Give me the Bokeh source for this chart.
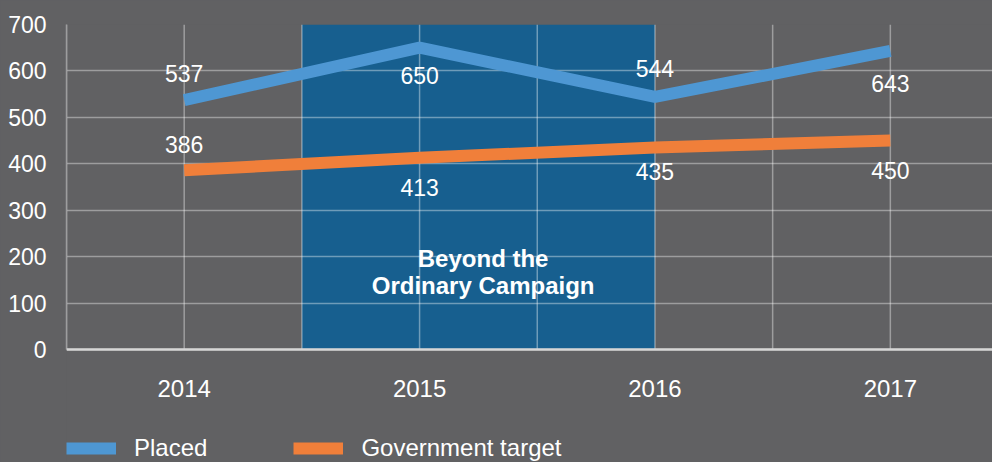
from bokeh.plotting import figure
from bokeh.models import Range1d, FixedTicker, Legend, LegendItem, Span
from bokeh.core.properties import value
from bokeh.embed import file_html
from bokeh.resources import INLINE

# ---- data ----
years = [2014, 2015, 2016, 2017]
year_labels = ["2014", "2015", "2016", "2017"]
placed = [537, 650, 544, 643]
target = [386, 413, 435, 450]
campaign_start = 2014.5
campaign_end = 2016
campaign_text = ["Beyond the", "Ordinary Campaign"]
y_ticks = [0, 100, 200, 300, 400, 500, 600, 700]
x_grid = [2013.5, 2014, 2014.5, 2015, 2015.5, 2016, 2016.5, 2017, 2017.5]

# ---- styles ----
BG = "#616163"
BLUE = "#4e97d3"
ORANGE = "#f07f3a"
BOX = "#175f8f"
FONT = "Liberation Sans"
placed_off = [-27, 28, -28, 33]
target_off = [-26, 30, 24, 30]

Y_MIN_VIEW = -243.4  # frame extends below 0 to host year labels and legend
X_END = 2017.434
Y_TOP = y_ticks[-1]

p = figure(width=992, height=462, output_backend="svg", toolbar_location=None,
           x_range=Range1d(2013.5, X_END), y_range=Range1d(Y_MIN_VIEW, Y_TOP),
           x_axis_location=None,
           min_border_left=66, min_border_right=0, min_border_top=24,
           min_border_bottom=0)
p.background_fill_color = BG
p.border_fill_color = BG
p.outline_line_color = None

# campaign box (behind grid)
p.quad(left=[campaign_start], right=[campaign_end], bottom=[0], top=[Y_TOP],
       fill_color=BOX, line_color=None, level="image")

# grid: horizontal via ygrid, vertical via segments limited to 0..700
p.xgrid.visible = False
p.ygrid.ticker = FixedTicker(ticks=y_ticks)
p.ygrid.grid_line_color = "white"
p.ygrid.grid_line_alpha = 0.38
p.ygrid.grid_line_width = 1.5
p.segment(x0=x_grid, y0=[0] * len(x_grid), x1=x_grid, y1=[Y_TOP] * len(x_grid),
          line_color="white", line_alpha=0.38, line_width=1.5, level="underlay")

# y axis
p.yaxis.ticker = FixedTicker(ticks=y_ticks)
p.yaxis.bounds = (0, Y_TOP)
p.yaxis.major_tick_line_color = None
p.yaxis.minor_tick_line_color = None
p.yaxis.major_label_text_color = "white"
p.yaxis.major_label_text_font = FONT
p.yaxis.major_label_text_font_size = "23px"
p.yaxis.axis_line_color = "#9d9d9e"
p.yaxis.axis_line_width = 1.5
p.yaxis.major_label_standoff = 14

# baseline (x axis line)
p.add_layout(Span(location=0, dimension="width", line_color="#d6d6d6",
                  line_width=2.5))

# x category labels
p.text(x=years, y=[0] * len(years), text=year_labels, y_offset=39,
       text_color="white", text_font=value(FONT), text_font_size="24px",
       text_align="center", text_baseline="middle")

# lines
r_placed = p.line(years, placed, line_color=BLUE, line_width=12)
r_target = p.line(years, target, line_color=ORANGE, line_width=12)

# value labels
p.text(x=years, y=placed, text=[str(v) for v in placed], y_offset=placed_off,
       text_color="white", text_font=value(FONT), text_font_size="23px",
       text_align="center", text_baseline="middle")
p.text(x=years, y=target, text=[str(v) for v in target], y_offset=target_off,
       text_color="white", text_font=value(FONT), text_font_size="23px",
       text_align="center", text_baseline="middle")

# campaign text
p.text(x=[2015.27, 2015.27], y=[196, 138], text=campaign_text,
       text_color="white", text_font=value(FONT), text_font_size="24px",
       text_font_style="bold", text_align="center", text_baseline="middle")

# legend
legend = Legend(items=[LegendItem(label="Placed", renderers=[r_placed]),
                       LegendItem(label="Government target", renderers=[r_target])],
                location=(0, 0), orientation="horizontal",
                glyph_width=50, glyph_height=14, label_standoff=18, spacing=86,
                padding=0, margin=0, border_line_color=None,
                background_fill_alpha=0,
                label_text_color="white", label_text_font=FONT,
                label_text_font_size="24px")
p.add_layout(legend, "center")

html = file_html(p, INLINE)
html = html.replace("</head>", "<style>body{background:#616163;}</style></head>")
open("out.html", "w").write(html)
